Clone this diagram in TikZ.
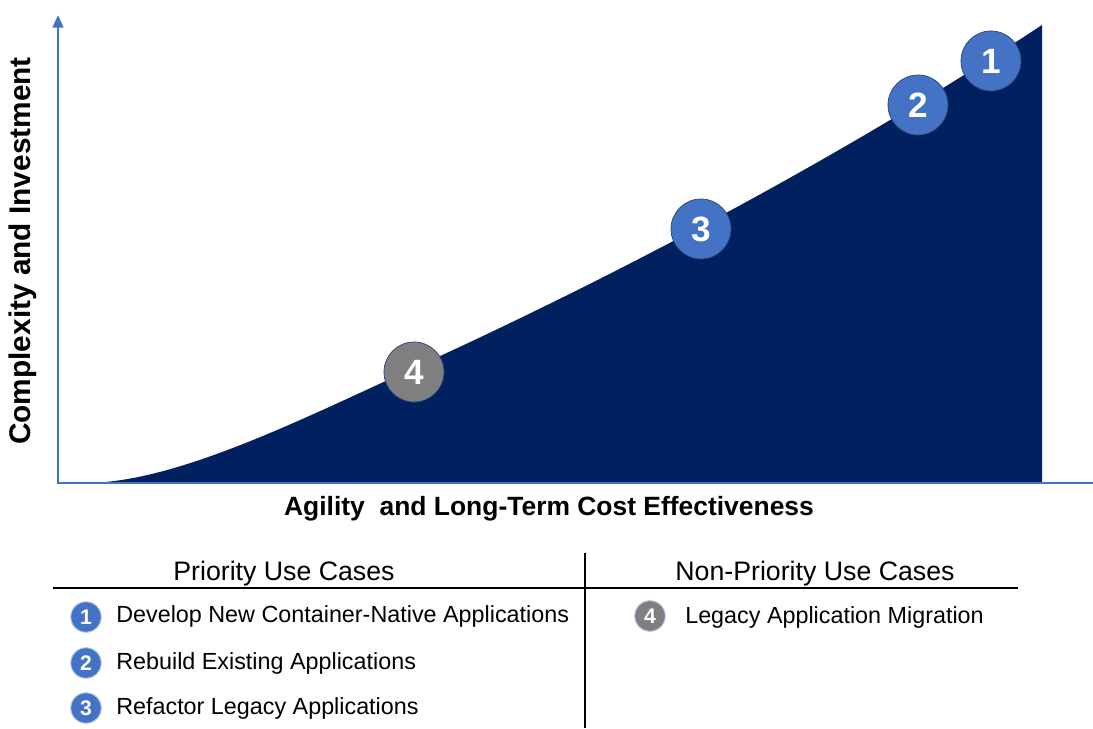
\documentclass[tikz,border=0pt]{standalone}
\usepackage{fontspec}
\setmainfont{Liberation Sans}
\usetikzlibrary{arrows.meta,positioning}
\definecolor{axisblue}{RGB}{68,114,196}
\definecolor{navy}{RGB}{0,32,96}
\definecolor{stepgray}{RGB}{127,127,127}

\begin{document}
\begin{tikzpicture}[x=0.025cm,y=-0.025cm,
    bigmark/.style={circle,draw=axisblue!60!black,line width=0.5pt,minimum size=1.5cm,inner sep=0pt,
      text=white,font=\bfseries\fontsize{25}{25}\selectfont},
    smallmark/.style={circle,draw=axisblue!45!white,line width=0.7pt,minimum size=0.76cm,inner sep=0pt,
      text=white,font=\bfseries\fontsize{15}{15}\selectfont},
    item/.style={anchor=base west,inner sep=0pt,font=\fontsize{16.6}{18}\selectfont},
    head/.style={anchor=base,inner sep=0pt,font=\fontsize{19}{21}\selectfont}]
                \useasboundingbox (0,0) rectangle (1093,729);
                % area under the curve
                \fill[navy] (85,483) .. controls (175,483) and (300,420) .. (414,368)
                    .. controls (614,277) and (842,157) .. (1042,25) -- (1042,483) -- cycle;
                % axis
                \draw[axisblue,line width=2pt,{Triangle[length=9pt,width=7.5pt]}-] (58,15) -- (58,483) -- (1093,483);
                \node[rotate=90,font=\bfseries\fontsize{21.2}{23}\selectfont] (ylabel) at (23,251) {Complexity and Investment};
                \node[font=\bfseries\fontsize{18.8}{20}\selectfont] (xlabel) at (549,509) {Agility\ \ and Long-Term Cost Effectiveness};
                % use cases on the curve
                \node[bigmark,fill=axisblue] (c1) at (991,61) {1};
                \node[bigmark,fill=axisblue] (c2) at (918,105) {2};
                \node[bigmark,fill=axisblue] (c3) at (701,229) {3};
                \node[bigmark,fill=stepgray] (c4) at (414,372) {4};
                % table
                \node[head] (hprio) at (284,580) {Priority Use Cases};
                \node[head] (hnon) at (815,580) {Non-Priority Use Cases};
                \draw[line width=1.5pt] (53,588) -- (1018,588);
                \draw[line width=1.5pt] (585,553) -- (585,728);
                \node[smallmark,fill=axisblue] (k1) at (86,617) {1};
                \node[smallmark,fill=axisblue] (k2) at (86,663) {2};
                \node[smallmark,fill=axisblue] (k3) at (86,708) {3};
                \node[smallmark,fill=stepgray] (k4) at (650,616) {4};
                \node[item] (t1) at (116,622) {Develop New Container-Native Applications};
                \node[item] (t2) at (116,669) {Rebuild Existing Applications};
                \node[item] (t3) at (116,714) {Refactor Legacy Applications};
                \node[item] (t4) at (685,623) {Legacy Application Migration};
            \end{tikzpicture}
\end{document}
